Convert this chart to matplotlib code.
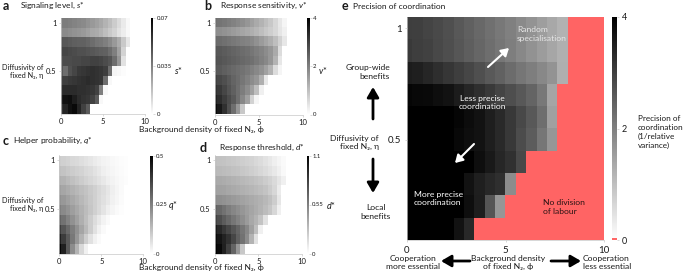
import numpy as np
import matplotlib
matplotlib.use('Agg')
import matplotlib.pyplot as plt
from matplotlib.colors import ListedColormap

plt.rcParams['font.family'] = ['Lato', 'DejaVu Sans']
plt.rcParams['mathtext.fontset'] = 'custom'
plt.rcParams['mathtext.it'] = 'Lato:italic'
plt.rcParams['mathtext.rm'] = 'Lato'

# ---------------- data ----------------
phi_min, phi_max, n_phi = 0.0, 10.0, 20          # background density of fixed N2 (columns)
eta_top, eta_bottom = 1.0, 0.1                    # diffusivity rows, listed top (1.0) to bottom (0.1)

# a: signalling level s*
signal_rows = [
    [0.036, 0.036, 0.035, 0.034, 0.033, 0.032, 0.030, 0.028, 0.026, 0.024, 0.021, 0.018, 0.014, 0.010, 0.006, 0.002],
    [0.032, 0.032, 0.031, 0.030, 0.029, 0.028, 0.026, 0.024, 0.023, 0.021, 0.018, 0.015, 0.012, 0.008, 0.005, 0.002],
    [0.047, 0.046, 0.045, 0.044, 0.043, 0.043, 0.042, 0.040, 0.038, 0.037, 0.035, 0.032, 0.028, 0.023, 0.015, 0.007],
    [0.051, 0.051, 0.050, 0.049, 0.048, 0.048, 0.047, 0.046, 0.045, 0.044, 0.043, 0.040, 0.035, 0.026, 0.012],
    [0.048, 0.049, 0.049, 0.050, 0.050, 0.051, 0.051, 0.052, 0.052, 0.051, 0.049, 0.047, 0.040, 0.029, 0.008],
    [0.046, 0.040, 0.048, 0.051, 0.054, 0.055, 0.056, 0.057, 0.056, 0.055, 0.053, 0.040, 0.003, 0.002, 0.001],
    [0.052, 0.053, 0.054, 0.055, 0.056, 0.057, 0.058, 0.057, 0.056, 0.055, 0.040, 0.002],
    [0.057, 0.058, 0.058, 0.058, 0.057, 0.057, 0.056, 0.055, 0.052, 0.035, 0.002],
    [0.062, 0.065, 0.066, 0.062, 0.058, 0.056, 0.055, 0.052, 0.045, 0.002],
    [0.056, 0.060, 0.065, 0.067, 0.060, 0.052, 0.045],
]
# b: response sensitivity v*
sensitivity_rows = [
    [2.24, 2.18, 2.12, 2.04, 1.96, 1.87, 1.77, 1.65, 1.49, 1.33, 1.18, 1.02, 0.86, 0.63, 0.39, 0.16],
    [1.80, 1.77, 1.71, 1.65, 1.57, 1.49, 1.41, 1.33, 1.25, 1.15, 1.02, 0.89, 0.78, 0.63, 0.42, 0.24],
    [2.34, 2.31, 2.24, 2.18, 2.12, 2.05, 1.99, 1.93, 1.87, 1.73, 1.57, 1.41, 1.25, 1.02, 0.71, 0.39],
    [2.67, 2.62, 2.56, 2.49, 2.43, 2.37, 2.31, 2.24, 2.15, 2.04, 1.93, 1.80, 1.65, 1.33, 0.55],
    [2.75, 2.68, 2.62, 2.56, 2.49, 2.43, 2.37, 2.31, 2.24, 2.12, 1.99, 1.87, 1.65, 1.18, 0.39],
    [2.67, 2.59, 2.51, 2.43, 2.35, 2.27, 2.20, 2.12, 1.99, 1.87, 1.73, 1.49, 1.18, 0.55, 0.16],
    [3.00, 2.87, 2.75, 2.59, 2.43, 2.31, 2.15, 1.99, 1.80, 1.65, 1.25, 0.39],
    [3.25, 3.09, 2.90, 2.68, 2.49, 2.27, 2.04, 1.80, 1.49, 1.02, 0.24],
    [3.50, 3.29, 3.06, 2.82, 2.59, 2.27, 1.88, 1.49, 0.71, 0.16],
    [3.87, 3.61, 3.22, 2.75, 2.27, 1.65, 0.86],
]
# c: helper probability q*
helper_rows = [
    [0.098, 0.092, 0.084, 0.078, 0.073, 0.065, 0.057, 0.049, 0.041, 0.033, 0.025, 0.020, 0.014, 0.010, 0.006, 0.004],
    [0.124, 0.116, 0.108, 0.100, 0.092, 0.084, 0.076, 0.069, 0.057, 0.045, 0.033, 0.025, 0.018, 0.012, 0.008, 0.004],
    [0.155, 0.147, 0.135, 0.124, 0.112, 0.100, 0.088, 0.080, 0.069, 0.057, 0.045, 0.033, 0.024, 0.016, 0.010, 0.006],
    [0.186, 0.175, 0.163, 0.151, 0.139, 0.127, 0.116, 0.104, 0.092, 0.078, 0.065, 0.049, 0.033, 0.020, 0.010],
    [0.216, 0.202, 0.186, 0.171, 0.155, 0.139, 0.124, 0.108, 0.092, 0.076, 0.061, 0.045, 0.029, 0.018, 0.008],
    [0.249, 0.229, 0.210, 0.190, 0.171, 0.151, 0.131, 0.112, 0.092, 0.073, 0.053, 0.033, 0.020, 0.010, 0.004],
    [0.304, 0.275, 0.245, 0.216, 0.186, 0.157, 0.127, 0.098, 0.069, 0.045, 0.025, 0.010],
    [0.375, 0.333, 0.294, 0.255, 0.216, 0.176, 0.137, 0.098, 0.059, 0.029, 0.010],
    [0.437, 0.382, 0.324, 0.265, 0.206, 0.147, 0.098, 0.059, 0.029, 0.010],
    [0.490, 0.437, 0.324, 0.225, 0.147, 0.078, 0.029],
]
# d: response threshold d*
threshold_rows = [
    [0.272, 0.263, 0.255, 0.246, 0.237, 0.224, 0.211, 0.198, 0.185, 0.168, 0.151, 0.125, 0.099, 0.073, 0.043, 0.022],
    [0.306, 0.298, 0.289, 0.280, 0.267, 0.255, 0.242, 0.229, 0.211, 0.194, 0.173, 0.151, 0.125, 0.099, 0.065, 0.030],
    [0.375, 0.367, 0.358, 0.345, 0.332, 0.319, 0.306, 0.293, 0.280, 0.263, 0.246, 0.220, 0.194, 0.160, 0.116, 0.065],
    [0.410, 0.401, 0.393, 0.380, 0.367, 0.354, 0.341, 0.328, 0.315, 0.298, 0.280, 0.255, 0.220, 0.173, 0.086],
    [0.496, 0.483, 0.470, 0.453, 0.436, 0.418, 0.401, 0.384, 0.367, 0.349, 0.332, 0.306, 0.272, 0.216, 0.108],
    [0.686, 0.651, 0.604, 0.561, 0.522, 0.487, 0.453, 0.418, 0.388, 0.358, 0.324, 0.289, 0.246, 0.173, 0.065],
    [0.824, 0.764, 0.703, 0.647, 0.591, 0.539, 0.487, 0.431, 0.375, 0.324, 0.259, 0.129],
    [0.996, 0.927, 0.863, 0.798, 0.733, 0.669, 0.591, 0.518, 0.410, 0.280, 0.065],
    [1.065, 1.014, 0.949, 0.884, 0.798, 0.690, 0.604, 0.496, 0.324, 0.129],
    [1.100, 1.057, 0.962, 0.824, 0.669, 0.453, 0.237],
]
# e: precision of coordination (1/relative variance); missing cells = no division of labour
precision_rows = [
    [3.03, 3.00, 2.93, 2.84, 2.75, 2.62, 2.49, 2.37, 2.24, 2.12, 1.99, 1.84, 1.68, 1.52, 1.36, 1.21],
    [3.09, 3.03, 2.96, 2.87, 2.78, 2.65, 2.53, 2.40, 2.27, 2.15, 2.02, 1.87, 1.71, 1.55, 1.40, 1.24],
    [3.56, 3.50, 3.40, 3.28, 3.15, 3.03, 2.90, 2.75, 2.59, 2.46, 2.31, 2.15, 2.02, 1.87, 1.68, 1.25],
    [3.91, 3.87, 3.84, 3.78, 3.69, 3.56, 3.40, 3.25, 3.09, 2.93, 2.78, 2.62, 2.43, 2.12, 1.41],
    [4.50, 4.40, 4.30, 4.20, 3.97, 3.91, 3.81, 3.69, 3.53, 3.34, 3.12, 2.87, 2.62, 2.27, 1.49],
    [4.60, 4.60, 4.50, 4.40, 4.20, 3.87, 3.78, 3.69, 3.53, 3.34, 3.12, 2.81, 2.56, 2.15, 1.65],
    [4.60, 4.60, 4.60, 4.50, 4.40, 4.20, 3.97, 3.78, 3.59, 3.40, 3.22, 2.87],
    [4.70, 4.70, 4.60, 4.60, 4.50, 4.20, 3.69, 3.50, 3.37, 3.25, 1.80],
    [4.70, 4.70, 4.70, 4.60, 4.50, 4.30, 3.78, 3.53, 2.67, 1.65],
    [4.80, 4.80, 4.70, 4.70, 4.60, 3.69, 3.37],
]

panel_letters = ['a', 'b', 'c', 'd', 'e']
panel_titles = ['Signaling level, $s$*', 'Response sensitivity, $v$*', 'Helper probability, $q$*',
                'Response threshold, $d$*', 'Precision of coordination']
cbar_labels = ['$s$*', '$v$*', '$q$*', '$d$*']
cbar_ticks = [[0, 0.035, 0.07], [0, 2, 4], [0, 0.25, 0.5], [0, 0.55, 1.1]]
cbar_ticklabels = [['0', '0.035', '0.07'], ['0', '2', '4'], ['0', '0.25', '0.5'], ['0', '0.55', '1.1']]
xticks = [0, 5, 10]
yticks = [0.5, 1]
ytick_labels = ['0.5', '1']
e_cbar_ticks = [0, 2, 4]

# ---------------- helpers ----------------
W, H = 685, 274
fig = plt.figure(figsize=(W / 100, H / 100), dpi=100)
TXT = '#1a1a1a'


def rect(x0, y0, x1, y1):
    return [x0 / W, 1 - y1 / H, (x1 - x0) / W, (y1 - y0) / H]


def to_grid(rows):
    g = np.full((len(rows), n_phi), np.nan)
    for i, r in enumerate(rows):
        g[i, :len(r)] = r
    return np.ma.masked_invalid(g)


half = (phi_max - phi_min) / (n_phi - 1) / 2
n_eta = len(signal_rows)
deta = (eta_top - eta_bottom) / (n_eta - 1)
extent = [phi_min - half, phi_max + half, eta_bottom - deta / 2, eta_top + deta / 2]


def heat(ax, rows, vmax, cmap, tick_fs, pad):
    im = ax.imshow(to_grid(rows), cmap=cmap, vmin=0, vmax=vmax, extent=extent,
                   origin='upper', aspect='auto', interpolation='nearest')
    ax.set_xlim(phi_min, phi_max)
    ax.set_ylim(extent[2], extent[3])
    ax.set_xticks(xticks)
    ax.set_yticks(yticks)
    ax.set_yticklabels(ytick_labels)
    for s in ['top', 'right']:
        ax.spines[s].set_visible(False)
    for s in ['left', 'bottom']:
        ax.spines[s].set_color('#c8c8c8')
        ax.spines[s].set_linewidth(0.5)
    ax.tick_params(length=1.5, width=0.4, color='#bbbbbb', labelsize=tick_fs,
                   labelcolor=TXT, pad=pad)
    return im


gray_small = plt.get_cmap('gray_r').copy()
gray_small.set_bad('white')

small_data = [signal_rows, sensitivity_rows, helper_rows, threshold_rows]
vmaxes = [0.07, 4, 0.5, 1.1]
ax_rects = [rect(60.7, 18, 145, 114), rect(215, 18, 303, 114.5),
            rect(59.3, 155.5, 143.3, 253.5), rect(215, 155.5, 301.7, 253.5)]
cb_rects = [rect(150.7, 18, 153.3, 114), rect(307, 18, 309.5, 114.5),
            rect(150, 155.5, 152.5, 253.5), rect(306.7, 155.5, 309, 253.5)]
cb_label_pos = [(174, 70.7), (318.5, 70.7), (168.5, 205.7), (326, 205.7)]

for i in range(4):
    ax = fig.add_axes(ax_rects[i])
    im = heat(ax, small_data[i], vmaxes[i], gray_small, 5.5, 1.5)
    cax = fig.add_axes(cb_rects[i])
    cb = fig.colorbar(im, cax=cax)
    cb.outline.set_linewidth(0)
    cb.set_ticks(cbar_ticks[i])
    cb.set_ticklabels(cbar_ticklabels[i])
    cax.tick_params(length=1.2, width=0.4, color='#bbbbbb', labelsize=4.3, labelcolor=TXT, pad=1.2)

# panel e
e_colors = plt.get_cmap('gray_r')(np.linspace(0, 1, 256))
e_colors[:2] = [1.0, 0.4, 0.4, 1.0]
cmap_e = ListedColormap(e_colors)
cmap_e.set_bad('#ff6464')
axe = fig.add_axes(rect(407, 17, 604, 240))
im_e = heat(axe, precision_rows, 4, cmap_e, 7, 2.5)
caxe = fig.add_axes(rect(611.7, 17, 617.3, 240))
cbe = fig.colorbar(im_e, cax=caxe)
cbe.outline.set_linewidth(0)
cbe.set_ticks(e_cbar_ticks)
caxe.tick_params(length=1.5, width=0.4, color='#bbbbbb', labelsize=6.5, labelcolor=TXT, pad=1.5)

# ---------------- overlay text ----------------
ov = fig.add_axes([0, 0, 1, 1], zorder=10)
ov.set_xlim(0, W)
ov.set_ylim(H, 0)
ov.axis('off')
ov.patch.set_alpha(0)

letter_pos = [(2.5, 6), (204, 6), (2.5, 141), (199.5, 147.5), (342, 6.5)]
title_pos = [(20, 6), (220.5, 6), (13, 141), (219, 147.5), (353, 6.5)]
for (lx, ly), (tx, ty), l, t in zip(letter_pos, title_pos, panel_letters, panel_titles):
    ov.text(lx, ly, l, fontsize=9, fontweight='bold', ha='left', va='center', color=TXT)
    ov.text(tx, ty, t, fontsize=6, ha='left', va='center', color=TXT)

for (x, y), lab in zip(cb_label_pos, cbar_labels):
    ov.text(x, y, lab, fontsize=6.5, ha='left', va='center', color=TXT)

for y in [71.5, 204.5]:
    ov.text(43, y, 'Diffusivity of\nfixed N₂, η', fontsize=5.2, ha='right', va='center',
            color=TXT, linespacing=1.25)
for y in [129, 267]:
    ov.text(201, y, 'Background density of fixed N₂, ϕ', fontsize=6, ha='center',
            va='center', color=TXT)

# panel e side annotations
fs_e = 6.1
ov.text(390, 72, 'Group-wide\nbenefits', fontsize=fs_e, ha='right', va='center', color=TXT, linespacing=1.25)
ov.text(379, 142.5, 'Diffusivity of\nfixed N₂, η', fontsize=fs_e, ha='right', va='center', color=TXT, linespacing=1.25)
ov.text(376, 212, 'Local\nbenefits', fontsize=fs_e, ha='center', va='center', color=TXT, linespacing=1.25)
ov.text(413, 262.5, 'Cooperation\nmore essential', fontsize=fs_e, ha='center', va='center', color=TXT, linespacing=1.2)
ov.text(508, 262.5, 'Background density\nof fixed N₂, ϕ', fontsize=fs_e, ha='center', va='center', color=TXT, linespacing=1.2)
ov.text(583, 262.5, 'Cooperation\nless essential', fontsize=fs_e, ha='left', va='center', color=TXT, linespacing=1.2)
ov.text(638, 132, 'Precision of\ncoordination\n(1/relative\nvariance)', fontsize=5.9, ha='left',
        va='center', color=TXT, linespacing=1.3)

black_arrow = dict(arrowstyle='-|>,head_length=0.6,head_width=0.35', lw=2.0, color='black',
                   shrinkA=0, shrinkB=0, mutation_scale=10)
for tail, head in [((373, 119), (373, 87)), ((373, 159), (373, 193)),
                   ((470, 261), (441, 261)), ((551, 261), (581, 261))]:
    ov.annotate('', xy=head, xytext=tail, arrowprops=black_arrow)

# inside panel e
ov.text(517, 34, 'Random\nspecialisation', fontsize=fs_e, ha='left', va='center', color='#e6e6e6', linespacing=1.3)
ov.text(482, 102.5, 'Less precise\ncoordination', fontsize=fs_e, ha='center', va='center', color='white', linespacing=1.3)
ov.text(414, 198.5, 'More precise\ncoordination', fontsize=fs_e, ha='left', va='center', color='white', linespacing=1.3)
ov.text(543, 207, 'No division\nof labour', fontsize=fs_e, ha='left', va='center', color='#2a1414', linespacing=1.3)
white_arrow = dict(arrowstyle='-|>,head_length=0.5,head_width=0.3', lw=1.5, color='white',
                   shrinkA=0, shrinkB=0, mutation_scale=9)
ov.annotate('', xy=(509, 48), xytext=(488, 67), arrowprops=white_arrow)
ov.annotate('', xy=(455, 163), xytext=(474, 144), arrowprops=white_arrow)

fig.savefig('out.png', dpi=100)
